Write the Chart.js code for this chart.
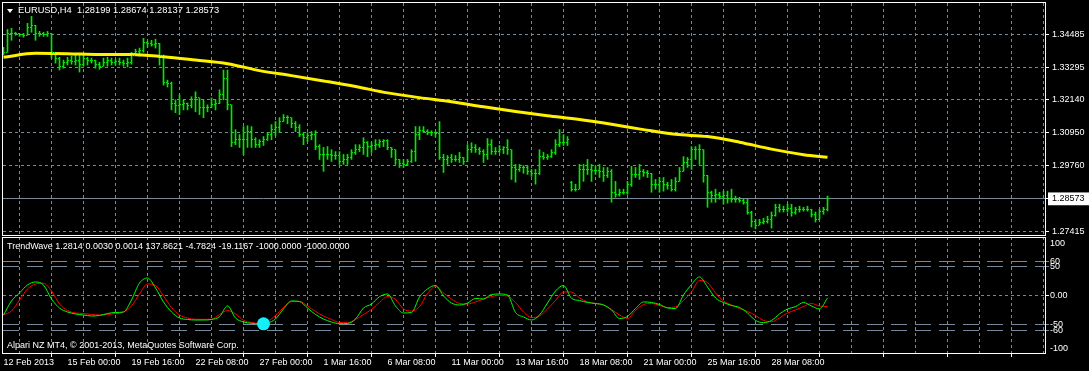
<!DOCTYPE html>
<html>
<head>
<meta charset="utf-8">
<title>EURUSD,H4</title>
<script src="https://cdn.jsdelivr.net/npm/chart.js@4.4.1/dist/chart.umd.min.js"></script>
<style>
  html, body { margin: 0; padding: 0; background: #000; }
  #wrap { position: relative; width: 1089px; height: 371px; overflow: hidden; background: #000; }
  #chart { position: absolute; left: 0; top: 0; }
  .txt { position: absolute; color: #fff; font: 9px "Liberation Sans", Arial, sans-serif; line-height: 10px; white-space: pre; }
  #mainTitle { font-size: 9.3px; }
  #arrow { position: absolute; left: 7px; top: 9px; width: 0; height: 0;
           border-left: 3px solid transparent; border-right: 3px solid transparent; border-top: 4px solid #fff; }
</style>
</head>
<body>
<div id="wrap">
  <canvas id="chart" width="1089" height="371"></canvas>
  <div id="arrow"></div>
  <div class="txt" id="mainTitle" style="left:18px;top:5px;"></div>
  <div class="txt" id="waveTitle" style="left:7px;top:241px;"></div>
  <div class="txt" id="footer" style="left:7px;top:340px;"></div>
</div>
<script>
// ============================================================
// EURUSD H4 bars + MA + TrendWave sub-window
// ============================================================

// ── Data ─────────────────────────────────────────────────
var symbol = "EURUSD,H4";
var footerText = "Alpari NZ MT4, \u00a9 2001-2013, MetaQuotes Software Corp.";

// one label every 16 bars
var timeLabels = ["12 Feb 2013", "15 Feb 00:00", "19 Feb 16:00", "22 Feb 08:00", "27 Feb 00:00",
  "1 Mar 16:00", "6 Mar 08:00", "11 Mar 00:00", "13 Mar 16:00", "18 Mar 08:00",
  "21 Mar 00:00", "25 Mar 16:00", "28 Mar 08:00"];

var opens = [
  1.3377, 1.3384, 1.3452, 1.3452, 1.3452, 1.3449, 1.3445, 1.3474, 1.3481, 1.3452,
  1.3452, 1.3449, 1.3452, 1.3384, 1.3363, 1.3334, 1.3348, 1.3356, 1.3352, 1.3356,
  1.3341, 1.3363, 1.3356, 1.3356, 1.3341, 1.3334, 1.3348, 1.3356, 1.3348, 1.3352,
  1.3348, 1.3345, 1.3348, 1.3374, 1.3388, 1.3391, 1.3420, 1.3416, 1.3413, 1.3416,
  1.3374, 1.3277, 1.3270, 1.3199, 1.3192, 1.3195, 1.3199, 1.3192, 1.3213, 1.3220,
  1.3184, 1.3184, 1.3184, 1.3195, 1.3199, 1.3231, 1.3291, 1.3195, 1.3059, 1.3070,
  1.3070, 1.3070, 1.3099, 1.3070, 1.3052, 1.3063, 1.3070, 1.3088, 1.3106, 1.3113,
  1.3135, 1.3149, 1.3149, 1.3127, 1.3113, 1.3088, 1.3077, 1.3084, 1.3088, 1.3045,
  1.3017, 1.3017, 1.3017, 1.3013, 1.3013, 1.2992, 1.2999, 1.3006, 1.3024, 1.3034,
  1.3042, 1.3059, 1.3045, 1.3049, 1.3052, 1.3063, 1.3067, 1.3042, 1.3034, 1.2999,
  1.2985, 1.2981, 1.2992, 1.3027, 1.3088, 1.3102, 1.3099, 1.3095, 1.3095, 1.3092,
  1.3006, 1.2999, 1.3006, 1.2999, 1.2999, 1.3006, 1.2992, 1.3034, 1.3042, 1.3034,
  1.3027, 1.3017, 1.3052, 1.3027, 1.3027, 1.3034, 1.3042, 1.3034, 1.2970, 1.2963,
  1.2970, 1.2970, 1.2956, 1.2949, 1.2949, 1.3009, 1.3006, 1.3009, 1.3024, 1.3052,
  1.3059, 1.3059, 1.2915, 1.2892, 1.2892, 1.2963, 1.2963, 1.2963, 1.2959, 1.2959,
  1.2956, 1.2942, 1.2956, 1.2881, 1.2874, 1.2881, 1.2881, 1.2910, 1.2945, 1.2945,
  1.2956, 1.2952, 1.2949, 1.2910, 1.2910, 1.2920, 1.2910, 1.2906, 1.2892, 1.2920,
  1.2956, 1.2988, 1.2999, 1.3034, 1.3034, 1.3034, 1.2942, 1.2881, 1.2870, 1.2874,
  1.2867, 1.2870, 1.2860, 1.2856, 1.2856, 1.2852, 1.2845, 1.2810, 1.2777, 1.2763,
  1.2774, 1.2777, 1.2784, 1.2799, 1.2827, 1.2820, 1.2820, 1.2824, 1.2810, 1.2820,
  1.2820, 1.2820, 1.2820, 1.2802, 1.2784, 1.2813, 1.28199
];

var highs = [
  1.3402, 1.3466, 1.3470, 1.3456, 1.3452, 1.3452, 1.3488, 1.3513, 1.3481, 1.3459,
  1.3456, 1.3459, 1.3452, 1.3384, 1.3366, 1.3356, 1.3366, 1.3370, 1.3374, 1.3374,
  1.3374, 1.3366, 1.3363, 1.3356, 1.3348, 1.3363, 1.3366, 1.3363, 1.3359, 1.3363,
  1.3356, 1.3363, 1.3384, 1.3395, 1.3399, 1.3434, 1.3424, 1.3427, 1.3431, 1.3416,
  1.3374, 1.3284, 1.3277, 1.3213, 1.3231, 1.3213, 1.3202, 1.3224, 1.3242, 1.3220,
  1.3213, 1.3195, 1.3220, 1.3213, 1.3249, 1.3320, 1.3320, 1.3195, 1.3106, 1.3088,
  1.3117, 1.3120, 1.3117, 1.3077, 1.3070, 1.3081, 1.3095, 1.3124, 1.3135, 1.3149,
  1.3160, 1.3156, 1.3149, 1.3135, 1.3124, 1.3095, 1.3095, 1.3099, 1.3102, 1.3052,
  1.3042, 1.3045, 1.3034, 1.3027, 1.3027, 1.3017, 1.3017, 1.3034, 1.3052, 1.3052,
  1.3077, 1.3063, 1.3059, 1.3070, 1.3070, 1.3070, 1.3070, 1.3042, 1.3034, 1.2999,
  1.2999, 1.2999, 1.3034, 1.3117, 1.3117, 1.3117, 1.3106, 1.3102, 1.3099, 1.3135,
  1.3017, 1.3013, 1.3017, 1.3013, 1.3024, 1.3006, 1.3052, 1.3059, 1.3052, 1.3042,
  1.3034, 1.3074, 1.3070, 1.3042, 1.3049, 1.3045, 1.3070, 1.3034, 1.2981, 1.2981,
  1.2977, 1.2977, 1.2963, 1.2963, 1.3034, 1.3024, 1.3017, 1.3034, 1.3070, 1.3106,
  1.3088, 1.3081, 1.2920, 1.2910, 1.2981, 1.2981, 1.2999, 1.2981, 1.2974, 1.2981,
  1.2970, 1.2970, 1.2963, 1.2920, 1.2892, 1.2892, 1.2920, 1.2974, 1.2970, 1.2981,
  1.2963, 1.2959, 1.2949, 1.2927, 1.2934, 1.2934, 1.2917, 1.2927, 1.2934, 1.2970,
  1.3009, 1.3006, 1.3045, 1.3045, 1.3052, 1.3034, 1.2942, 1.2885, 1.2892, 1.2881,
  1.2885, 1.2885, 1.2892, 1.2867, 1.2863, 1.2856, 1.2856, 1.2813, 1.2784, 1.2784,
  1.2788, 1.2795, 1.2810, 1.2838, 1.2838, 1.2831, 1.2838, 1.2838, 1.2827, 1.2831,
  1.2827, 1.2831, 1.2820, 1.2810, 1.2820, 1.2827, 1.28674
];

var lows = [
  1.3374, 1.3384, 1.3427, 1.3445, 1.3441, 1.3438, 1.3445, 1.3456, 1.3427, 1.3441,
  1.3441, 1.3441, 1.3363, 1.3345, 1.3320, 1.3327, 1.3338, 1.3341, 1.3338, 1.3313,
  1.3334, 1.3338, 1.3345, 1.3327, 1.3323, 1.3334, 1.3334, 1.3338, 1.3338, 1.3338,
  1.3334, 1.3331, 1.3341, 1.3374, 1.3370, 1.3384, 1.3402, 1.3406, 1.3399, 1.3338,
  1.3266, 1.3259, 1.3177, 1.3167, 1.3160, 1.3177, 1.3177, 1.3184, 1.3170, 1.3160,
  1.3149, 1.3170, 1.3184, 1.3177, 1.3199, 1.3213, 1.3177, 1.3045, 1.3052, 1.3042,
  1.3017, 1.3042, 1.3042, 1.3042, 1.3042, 1.3049, 1.3067, 1.3070, 1.3084, 1.3095,
  1.3135, 1.3127, 1.3113, 1.3099, 1.3081, 1.3052, 1.3063, 1.3070, 1.3034, 1.2999,
  1.2956, 1.2999, 1.2992, 1.2999, 1.2981, 1.2981, 1.2981, 1.2999, 1.3017, 1.3027,
  1.3017, 1.3009, 1.3024, 1.3034, 1.3042, 1.3045, 1.3034, 1.3006, 1.2981, 1.2970,
  1.2970, 1.2977, 1.2988, 1.2992, 1.3070, 1.3095, 1.3088, 1.3084, 1.3081, 1.2999,
  1.2952, 1.2981, 1.2988, 1.2992, 1.2988, 1.2981, 1.2992, 1.3024, 1.3024, 1.3017,
  1.2988, 1.2999, 1.3017, 1.3017, 1.3024, 1.3020, 1.3017, 1.2927, 1.2917, 1.2956,
  1.2949, 1.2945, 1.2938, 1.2910, 1.2945, 1.2999, 1.2999, 1.3006, 1.3017, 1.3045,
  1.3049, 1.3049, 1.2885, 1.2885, 1.2892, 1.2920, 1.2945, 1.2920, 1.2945, 1.2934,
  1.2920, 1.2934, 1.2845, 1.2863, 1.2867, 1.2874, 1.2874, 1.2902, 1.2934, 1.2927,
  1.2938, 1.2934, 1.2881, 1.2892, 1.2881, 1.2885, 1.2892, 1.2885, 1.2885, 1.2920,
  1.2956, 1.2970, 1.2963, 1.2999, 1.2981, 1.2917, 1.2827, 1.2845, 1.2845, 1.2856,
  1.2838, 1.2842, 1.2845, 1.2845, 1.2845, 1.2838, 1.2802, 1.2756, 1.2749, 1.2763,
  1.2767, 1.2770, 1.2752, 1.2795, 1.2810, 1.2810, 1.2810, 1.2795, 1.2802, 1.2810,
  1.2813, 1.2813, 1.2792, 1.2774, 1.2784, 1.2802, 1.28137
];

var closes = [
  1.3384, 1.3452, 1.3452, 1.3452, 1.3449, 1.3445, 1.3474, 1.3481, 1.3452, 1.3452,
  1.3449, 1.3452, 1.3384, 1.3363, 1.3334, 1.3348, 1.3356, 1.3352, 1.3356, 1.3341,
  1.3363, 1.3356, 1.3356, 1.3341, 1.3334, 1.3348, 1.3356, 1.3348, 1.3352, 1.3348,
  1.3345, 1.3348, 1.3374, 1.3388, 1.3391, 1.3420, 1.3416, 1.3413, 1.3416, 1.3374,
  1.3277, 1.3270, 1.3199, 1.3192, 1.3195, 1.3199, 1.3192, 1.3213, 1.3220, 1.3184,
  1.3184, 1.3184, 1.3195, 1.3199, 1.3231, 1.3291, 1.3195, 1.3059, 1.3070, 1.3070,
  1.3070, 1.3099, 1.3070, 1.3052, 1.3063, 1.3070, 1.3088, 1.3106, 1.3113, 1.3135,
  1.3149, 1.3149, 1.3127, 1.3113, 1.3088, 1.3077, 1.3084, 1.3088, 1.3045, 1.3017,
  1.3017, 1.3017, 1.3013, 1.3013, 1.2992, 1.2999, 1.3006, 1.3024, 1.3034, 1.3042,
  1.3059, 1.3045, 1.3049, 1.3052, 1.3063, 1.3067, 1.3042, 1.3034, 1.2999, 1.2985,
  1.2981, 1.2992, 1.3027, 1.3088, 1.3102, 1.3099, 1.3095, 1.3095, 1.3092, 1.3006,
  1.2999, 1.3006, 1.2999, 1.2999, 1.3006, 1.2992, 1.3034, 1.3042, 1.3034, 1.3027,
  1.3017, 1.3052, 1.3027, 1.3027, 1.3034, 1.3042, 1.3034, 1.2970, 1.2963, 1.2970,
  1.2970, 1.2956, 1.2949, 1.2949, 1.3009, 1.3006, 1.3009, 1.3024, 1.3052, 1.3059,
  1.3059, 1.3070, 1.2892, 1.2892, 1.2963, 1.2963, 1.2963, 1.2959, 1.2959, 1.2956,
  1.2942, 1.2956, 1.2881, 1.2874, 1.2881, 1.2881, 1.2910, 1.2945, 1.2945, 1.2956,
  1.2952, 1.2949, 1.2910, 1.2910, 1.2920, 1.2910, 1.2906, 1.2892, 1.2920, 1.2956,
  1.2988, 1.2999, 1.3034, 1.3034, 1.3034, 1.2942, 1.2881, 1.2870, 1.2874, 1.2867,
  1.2870, 1.2860, 1.2856, 1.2856, 1.2852, 1.2845, 1.2810, 1.2777, 1.2763, 1.2774,
  1.2777, 1.2784, 1.2799, 1.2827, 1.2820, 1.2820, 1.2824, 1.2810, 1.2820, 1.2820,
  1.2820, 1.2820, 1.2802, 1.2784, 1.2813, 1.2820, 1.28573
];

// moving average
var maBars   = [0, 8, 16, 24, 32, 40, 48, 56, 64, 72, 80, 88, 96, 104, 112, 120, 128,
                136, 144, 152, 160, 168, 176, 184, 192, 200, 206];
var maValues = [1.3366, 1.3380, 1.3379, 1.3376, 1.3376, 1.3368, 1.3356, 1.3343, 1.3318,
                1.3300, 1.3281, 1.3261, 1.3238, 1.3221, 1.3206, 1.3188, 1.3171, 1.3156,
                1.3142, 1.3125, 1.3106, 1.3089, 1.3081, 1.3061, 1.3036, 1.3016, 1.3007];

// TrendWave lines
var waveGreen = [
  -32.8, -8.6, 5.2, 19.0, 24.1, 19.0, -5.2, -20.7, -27.6, -31.0,
  -32.8, -34.5, -33.6, -30.2, -28.4, -27.6, -6.9, 22.4, 31.0, 13.8,
  -10.3, -27.6, -37.9, -40.5, -41.4, -41.4, -40.5, -35.7, -17.2, -37.9,
  -44.8, -47.1, -48.3, -46.6, -39.7, -22.4, -8.6, -9.5, -20.7, -31.9,
  -39.7, -44.8, -47.8, -47.4, -39.7, -20.7, -13.8, -1.2, 3.4, -17.2,
  -29.3, -28.4, -1.7, 12.1, 18.1, 0, -12.1, -15.5, -12.1, -4.3,
  -5.2, 2.6, 3.4, 1.7, -28.4, -36.2, -41.4, -32.8, -12.1, 8.6,
  18.1, -4.0, -7.8, -11.2, -12.9, -15.5, -24.1, -38.8, -35.3, -21.6,
  -10.3, -11.2, -14.7, -20.7, -21.6, 1.7, 19.8, 32.8, 15.5, -3.4,
  -11.2, -16.4, -19.8, -29.3, -42.2, -46.0, -42.2, -31.0, -22.4, -18.4,
  -11.2, -17.2, -22.4, -3.4
];
var waveRed = [
  -32.8, -25.9, -6.9, 12.1, 20.7, 21.9, 8.6, -13.8, -25.0, -29.3,
  -30.2, -31.9, -32.8, -31.9, -30.2, -27.6, -17.2, 3.4, 20.7, 18.1,
  0, -19.8, -32.8, -37.9, -40.2, -40.2, -40.2, -31.9, -25.0, -31.0,
  -41.9, -45.7, -47.1, -44.0, -33.6, -19.8, -9.5, -9.5, -17.2, -26.7,
  -34.5, -40.5, -45.7, -46.0, -40.5, -31.9, -23.3, -11.2, -0.9, -6.0,
  -22.4, -25.9, -18.4, 4.3, 16.4, 5.2, -5.2, -12.9, -13.8, -10.3,
  -5.2, -0.9, 0.9, 0, -11.2, -27.6, -37.1, -34.5, -22.4, -7.8,
  6.9, 6.9, -3.4, -10.3, -12.9, -15.5, -23.3, -32.8, -38.8, -25.0,
  -14.7, -12.9, -16.4, -19.8, -19.0, -7.8, 6.9, 26.7, 23.3, 5.2,
  -8.6, -15.5, -21.6, -26.7, -33.6, -42.2, -44.3, -37.9, -29.3, -24.1,
  -18.1, -12.9, -17.2, -18.4
];

var signalBars   = [65];
var signalValues = [-48];

var priceTicks  = [1.34485, 1.33295, 1.32140, 1.30950, 1.29760, 1.27415];
var waveTicks   = [100, 60, 50, 0, -50, -60, -100];
var waveLevels  = [60, 50, -50, -60];
var waveBuffers = [1.2814, 0.0030, 0.0014, 137.8621, -4.7824, -19.1167, -1000.0000, -1000.0000];

// ── Style ────────────────────────────────────────────────
var GRID  = "#778899";
var BARS  = "#00e800";
var FONT  = { family: "'Liberation Sans', Arial, sans-serif", size: 9 };
var last  = closes.length - 1;
var lastClose = closes[last];

// ── Texts ────────────────────────────────────────────────
document.getElementById("mainTitle").textContent = symbol + "  " +
  [opens[last], highs[last], lows[last], closes[last]].map(function(v) { return v.toFixed(5); }).join(" ");
document.getElementById("waveTitle").textContent = "TrendWave " +
  waveBuffers.map(function(v) { return v.toFixed(4); }).join(" ");
document.getElementById("footer").textContent = footerText;

// ── Plugin: bar ticks + window frames ────────────────────
var mtPlugin = {
  id: "mtPlugin",
  afterDatasetsDraw: function(chart) {
    var ctx = chart.ctx, xs = chart.scales.x, ys = chart.scales.y;
    ctx.save();
    ctx.fillStyle = BARS;
    for (var i = 0; i < closes.length; i++) {
      var px = Math.floor(xs.getPixelForValue(i));
      ctx.fillRect(px - 1, Math.floor(ys.getPixelForValue(opens[i])), 1, 1);
      ctx.fillRect(px + 1, Math.floor(ys.getPixelForValue(closes[i])), 1, 1);
    }
    ctx.restore();
  },
  afterDraw: function(chart) {
    var ctx = chart.ctx, a = chart.chartArea;
    var ys = chart.scales.y, ws = chart.scales.y2;
    var l = a.left - 0.5, w = a.right - a.left + 1;
    ctx.save();
    ctx.strokeStyle = "#ffffff";
    ctx.lineWidth = 1;
    ctx.strokeRect(l, ys.top - 0.5, w, ys.bottom - ys.top);
    ctx.strokeRect(l, ws.top + 1.5, w, ws.bottom - ws.top - 2);
    ctx.restore();
  }
};

// ── Chart ────────────────────────────────────────────────
function isLevel(v) { return waveLevels.indexOf(v) !== -1; }

// right-hand axes: fixed width and no label overhang padding
function fitRight(s) {
  s.width = 44;
  s.paddingTop = 0;
  s.paddingBottom = 0;
}

new Chart(document.getElementById("chart"), {
  type: "bar",
  data: {
    datasets: [
      {
        type: "line",
        data: signalBars.map(function(b, k) { return { x: b, y: signalValues[k] }; }),
        yAxisID: "y2",
        showLine: false,
        pointRadius: 6.5,
        pointBackgroundColor: "#14eef8",
        pointBorderWidth: 0,
        order: 0
      },
      {
        type: "line",
        data: waveGreen.map(function(v, k) { return { x: 2 * k, y: v }; }),
        yAxisID: "y2",
        borderColor: "#00ff00",
        borderWidth: 1,
        pointRadius: 0,
        cubicInterpolationMode: "monotone",
        order: 1
      },
      {
        type: "line",
        data: waveRed.map(function(v, k) { return { x: 2 * k, y: v }; }),
        yAxisID: "y2",
        borderColor: "#ff0000",
        borderWidth: 1,
        pointRadius: 0,
        cubicInterpolationMode: "monotone",
        order: 1
      },
      {
        type: "line",
        data: maBars.map(function(b, k) { return { x: b, y: maValues[k] }; }),
        yAxisID: "y",
        borderColor: "#fff200",
        borderWidth: 3,
        pointRadius: 0,
        cubicInterpolationMode: "monotone",
        order: 1
      },
      {
        type: "bar",
        data: lows.map(function(lo, i) { return { x: i, y: [lo, highs[i]] }; }),
        yAxisID: "y",
        backgroundColor: BARS,
        borderWidth: 0,
        barThickness: 1,
        order: 2
      }
    ]
  },
  options: {
    responsive: false,
    maintainAspectRatio: false,
    animation: false,
    events: [],
    layout: { autoPadding: false, padding: { left: 3, top: 3, right: 0, bottom: 0 } },
    plugins: { legend: { display: false }, tooltip: { enabled: false } },
    scales: {
      x: {
        type: "linear",
        min: -0.125,
        max: 260.375,
        offset: false,
        afterBuildTicks: function(s) {
          var t = [];
          for (var v = 0; v <= 256; v += 8) t.push({ value: v });
          s.ticks = t;
        },
        afterFit: function(s) { s.height = 17; s.paddingLeft = 0; s.paddingRight = 0; },
        grid: {
          color: function(c) { return c.tick && c.tick.value === 0 ? "transparent" : GRID; },
          tickColor: function(c) { return c.tick && c.tick.value % 16 === 0 ? "#ffffff" : "transparent"; },
          tickLength: 3
        },
        border: { display: false, dash: [3, 3] },
        ticks: {
          color: "#ffffff",
          font: FONT,
          padding: 0,
          align: "start",
          maxRotation: 0,
          autoSkip: false,
          callback: function(v) { return v % 16 === 0 ? (timeLabels[v / 16] || "") : ""; }
        }
      },
      y: {
        type: "linear",
        position: "right",
        stack: "panes",
        stackWeight: 233,
        min: 1.27238,
        max: 1.35610,
        afterBuildTicks: function(s) {
          s.ticks = priceTicks.concat([lastClose]).sort().map(function(v) { return { value: v }; });
        },
        afterFit: fitRight,
        grid: { color: GRID, tickColor: "#ffffff", tickLength: 4 },
        border: {
          display: false,
          dash: function(c) { return c.tick && c.tick.value === lastClose ? [] : [3, 3]; }
        },
        ticks: {
          font: FONT,
          padding: 3,
          autoSkip: false,
          color: function(c) { return c.tick && c.tick.value === lastClose ? "#000000" : "#ffffff"; },
          showLabelBackdrop: true,
          backdropColor: function(c) { return c.tick && c.tick.value === lastClose ? "#ffffff" : "transparent"; },
          backdropPadding: { left: 4, right: 6, top: 1, bottom: 1 },
          callback: function(v) { return v.toFixed(5); }
        }
      },
      y2: {
        type: "linear",
        position: "right",
        stack: "panes",
        stackWeight: 118,
        min: -100,
        max: 103.4,
        afterBuildTicks: function(s) {
          s.ticks = waveTicks.slice().sort(function(a, b) { return a - b; })
            .map(function(v) { return { value: v }; });
        },
        afterFit: fitRight,
        grid: {
          color: function(c) {
            if (!c.tick) return GRID;
            return (c.tick.value === 0 || isLevel(c.tick.value)) ? GRID : "transparent";
          },
          tickColor: function(c) {
            if (!c.tick) return GRID;
            if (c.tick.value === 0) return "#ffffff";
            return isLevel(c.tick.value) ? GRID : "transparent";
          },
          tickLength: 4
        },
        border: {
          display: false,
          dash: function(c) { return c.tick && isLevel(c.tick.value) ? [16, 8] : [3, 3]; }
        },
        ticks: {
          font: FONT,
          color: "#ffffff",
          padding: 1,
          autoSkip: false,
          callback: function(v) {
            if (v === 100) return ["", "100"];
            if (v === -100) return ["-100", ""];
            if (v === 0) return "0.00";
            return String(v);
          }
        }
      }
    }
  },
  plugins: [mtPlugin]
});
</script>
</body>
</html>
